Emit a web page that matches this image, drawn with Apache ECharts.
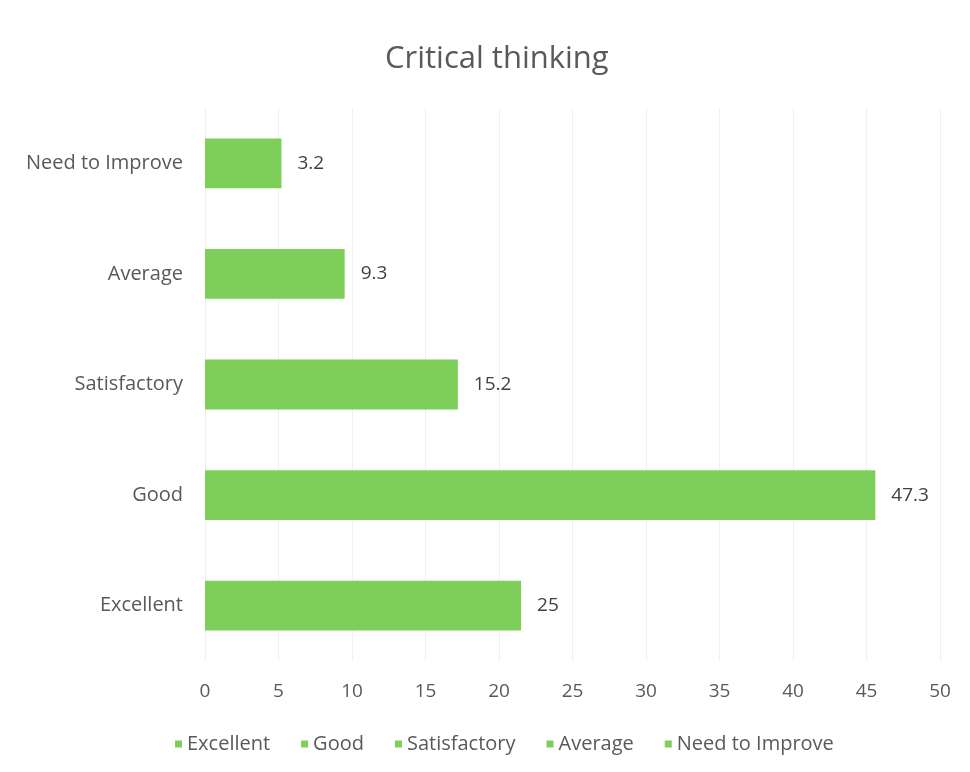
<!DOCTYPE html>
<html>
<head>
<meta charset="utf-8">
<script src="https://cdn.jsdelivr.net/npm/echarts@6/dist/echarts.min.js"></script>
<style>html,body{margin:0;padding:0;background:#fff;}#c{width:970px;height:772px;}</style>
</head>
<body>
<div id="c"></div>
<script>
// Categories bottom-to-top
const categories = ['Excellent', 'Good', 'Satisfactory', 'Average', 'Need to Improve'];
// Bar lengths as drawn in the picture (read against the x axis)
const barLengths = [21.5, 45.6, 17.2, 9.5, 5.2];
// Data labels as printed in the picture
const labelTexts = ['25', '47.3', '15.2', '9.3', '3.2'];
const xTicks = [0, 50, 5];

const FONT = '"Open Sans", Lato, sans-serif';
const GREEN = '#7dcf59';

const series = categories.map((name, i) => ({
  name: name,
  type: 'bar',
  stack: 'all',
  barWidth: '45%',
  itemStyle: { color: GREEN },
  data: categories.map((c, j) => j === i ? barLengths[i] : '-'),
  label: {
    show: true,
    position: 'right',
    distance: 16,
    color: '#404040',
    fontFamily: FONT,
    fontSize: 19,
    formatter: () => labelTexts[i]
  }
}));

const chart = echarts.init(document.getElementById('c'));
chart.setOption({
  backgroundColor: '#ffffff',
  animation: false,
  title: {
    text: 'Critical thinking',
    left: 380,
    top: 39,
    textStyle: { color: '#595959', fontFamily: FONT, fontSize: 31, fontWeight: 'normal' }
  },
  legend: {
    data: categories,
    bottom: 13,
    left: 170,
    icon: 'rect',
    itemWidth: 7,
    itemHeight: 7,
    itemGap: 31,
    textStyle: { color: '#595959', fontFamily: FONT, fontSize: 20 }
  },
  grid: { left: 205, right: 30, top: 108, bottom: 111, containLabel: false },
  xAxis: {
    type: 'value',
    min: xTicks[0],
    max: xTicks[1],
    interval: xTicks[2],
    axisLine: { show: false },
    axisTick: { show: false },
    splitLine: { show: true, lineStyle: { color: '#f0f0f0', width: 1 } },
    axisLabel: { color: '#595959', fontFamily: FONT, fontSize: 19, margin: 21 }
  },
  yAxis: {
    type: 'category',
    data: categories,
    axisLine: { show: false },
    axisTick: { show: false },
    axisLabel: { color: '#595959', fontFamily: FONT, fontSize: 20, margin: 22 }
  },
  series: series
});
</script>
</body>
</html>
